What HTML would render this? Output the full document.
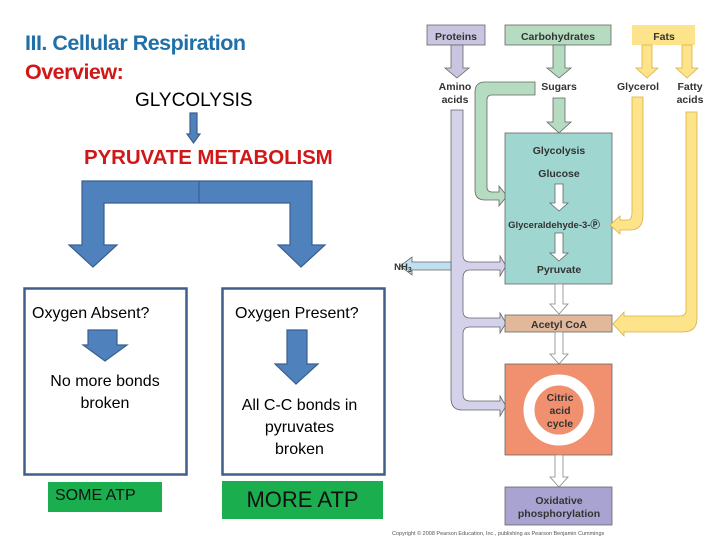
<!DOCTYPE html>
<html><head><meta charset="utf-8"><style>
body{margin:0;width:720px;height:540px;background:#fff;overflow:hidden;position:relative;font-family:"Liberation Sans",sans-serif}
.a{position:absolute;white-space:nowrap}
</style></head><body>
<div class="a" style="left:25px;top:31px;font:bold 21.5px 'Liberation Sans',sans-serif;color:#1f6fa8;letter-spacing:-0.5px">III. Cellular Respiration</div>
<div class="a" style="left:25px;top:60px;font:bold 21.5px 'Liberation Sans',sans-serif;color:#d01818;letter-spacing:-0.5px">Overview:</div>
<div class="a" style="left:135px;top:90px;font:19px 'Liberation Sans',sans-serif;color:#000">GLYCOLYSIS</div>
<div class="a" style="left:84px;top:146px;font:bold 20.5px 'Liberation Sans',sans-serif;color:#d01818;letter-spacing:-0.1px">PYRUVATE METABOLISM</div>
<svg class="a" style="left:0;top:0" width="720" height="540">
<g fill="#4f81bd" stroke="#3a5f8f" stroke-width="1.2">
<polygon points="190,113 197,113 197,134 200,134 193.5,143 187,134 190,134"/>
<polygon points="82,181 312,181 312,245 325,245 301,267 278,245 290,245 290,203 104,203 104,245 117,245 93,267 69,245 82,245"/>
<line x1="199" y1="181" x2="199" y2="203"/>
<polygon points="88,330 117,330 117,345 127,345 105,361 83,345 88,345"/>
<polygon points="287,330 307,330 307,364 318,364 296,384 275,364 287,364"/>
</g>
<rect x="24.5" y="288.5" width="162" height="186" fill="none" stroke="#3f5f8a" stroke-width="2.5"/>
<rect x="222.5" y="288.5" width="162" height="186" fill="none" stroke="#3f5f8a" stroke-width="2.5"/>
<rect x="48" y="482" width="114" height="30" fill="#1aae4e"/>
<rect x="222" y="481" width="161" height="38" fill="#1aae4e"/>
<g stroke="#666" stroke-width="0.8">
<rect x="427" y="25" width="58" height="20" fill="#c9c4e0"/>
<rect x="505" y="25" width="106" height="20" fill="#b5dcc0"/>
<rect x="632" y="25" width="63" height="20" fill="#fde48a" stroke="none"/>
<polygon points="451,45 463,45 463,68 469,68 457,78 445,68 451,68" fill="#c9c4e0"/>
<polygon points="553,45 565,45 565,68 571,68 559,78 547,68 553,68" fill="#b5dcc0"/>
<polygon points="642,45 652,45 652,68 658,68 647,78 636,68 642,68" fill="#fde48a" stroke="#d8b040"/>
<polygon points="682,45 692,45 692,68 698,68 687,78 676,68 682,68" fill="#fde48a" stroke="#d8b040"/>
<polygon points="553,98 565,98 565,122 571,122 559,133 547,122 553,122" fill="#b5dcc0"/>
<path d="M451,110 L463,110 L463,255 Q463,262 470,262 L500,262 L500,256 L506,266 L500,276 L500,270 L470,270 Q463,270 463,278 L463,311 Q463,318 470,318 L500,318 L500,313 L506,323 L500,333 L500,327 L470,327 Q463,327 463,334 L463,394 Q463,401 470,401 L500,401 L500,396 L506,406 L500,416 L500,410 L462,410 Q451,410 451,398 Z" fill="#d4d1ea"/>
<polygon points="451,262 412,262 412,257 400,266 412,275 412,270 451,270" fill="#bfe0f0"/>
<path d="M535,82 L535,95 L492,95 Q487,95 487,100 L487,187 Q487,192 492,192 L499,192 L499,186 L507,196 L499,206 L499,200 L485,200 Q475,200 475,190 L475,92 Q475,82 485,82 Z" fill="#b5dcc0"/>
<rect x="505" y="133" width="107" height="151" fill="#9fd6cf"/>
<path d="M632,97 L643,97 L643,215 Q643,230 630,230 L620,230 L620,234 L610,225 L620,216 L620,220 L628,220 Q632,220 632,212 Z" fill="#fde48a" stroke="#d8b040"/>
<path d="M686,112 L697,112 L697,318 Q697,332 683,332 L624,332 L624,336 L613,324 L624,312 L624,316 L680,316 Q686,316 686,310 Z" fill="#fde48a" stroke="#d8b040"/>
<polygon points="555,184 563,184 563,203 568,203 559,211 550,203 555,203" fill="#fff"/>
<polygon points="555,233 563,233 563,253 568,253 559,261 550,253 555,253" fill="#fff"/>
<polygon points="555,284 563,284 563,304 568,304 559,314 550,304 555,304" fill="#fff" stroke="#888"/>
<rect x="505" y="315" width="107" height="17" fill="#e1b89a"/>
<polygon points="555,332 563,332 563,354 568,354 559,364 550,354 555,354" fill="#fff" stroke="#888"/>
<rect x="505" y="364" width="107" height="91" fill="#f0906e"/>
<circle cx="559" cy="410" r="30" fill="none" stroke="#fff" stroke-width="11"/>
<polygon points="555,455 563,455 563,477 568,477 559,487 550,477 555,477" fill="#fff" stroke="#888"/>
<rect x="505" y="487" width="107" height="38" fill="#a9a3d1"/>
</g>
<g font-family="Liberation Sans,sans-serif" font-weight="bold" fill="#333" text-anchor="middle" font-size="10.5">
<text x="456" y="40">Proteins</text>
<text x="558" y="40">Carbohydrates</text>
<text x="664" y="40">Fats</text>
<text x="455" y="90">Amino</text><text x="455" y="103">acids</text>
<text x="559" y="90">Sugars</text>
<text x="638" y="90">Glycerol</text>
<text x="690" y="90">Fatty</text><text x="690" y="103">acids</text>
<text x="559" y="154">Glycolysis</text>
<text x="559" y="177">Glucose</text>
<text x="554" y="228" font-size="9.5">Glyceraldehyde-3-Ⓟ</text>
<text x="559" y="273">Pyruvate</text>
<text x="559" y="328">Acetyl CoA</text>
<text x="560" y="401">Citric</text><text x="560" y="414">acid</text><text x="560" y="427">cycle</text>
<text x="559" y="504">Oxidative</text><text x="559" y="517">phosphorylation</text>
<text x="403" y="270" font-size="9.5">NH<tspan font-size="7" dy="2">3</tspan></text>
</g>
<text x="392" y="535" font-family="Liberation Sans,sans-serif" font-size="5.5" fill="#555">Copyright © 2008 Pearson Education, Inc., publishing as Pearson Benjamin Cummings</text>
</svg>
<div class="a" style="left:32px;top:305px;font-size:16px">Oxygen Absent?</div>
<div class="a" style="left:235px;top:305px;font-size:16px">Oxygen Present?</div>
<div class="a" style="left:24px;width:162px;top:371px;font-size:16px;text-align:center;line-height:22px;white-space:normal">No more bonds<br>broken</div>
<div class="a" style="left:222px;width:155px;top:395px;font-size:16px;text-align:center;line-height:22px;white-space:normal">All C-C bonds in<br>pyruvates<br>broken</div>
<div class="a" style="left:55px;top:487px;font-size:16px;color:#111">SOME ATP</div>
<div class="a" style="left:222px;width:161px;text-align:center;top:487px;font-size:22px;color:#111">MORE ATP</div>
</body></html>
